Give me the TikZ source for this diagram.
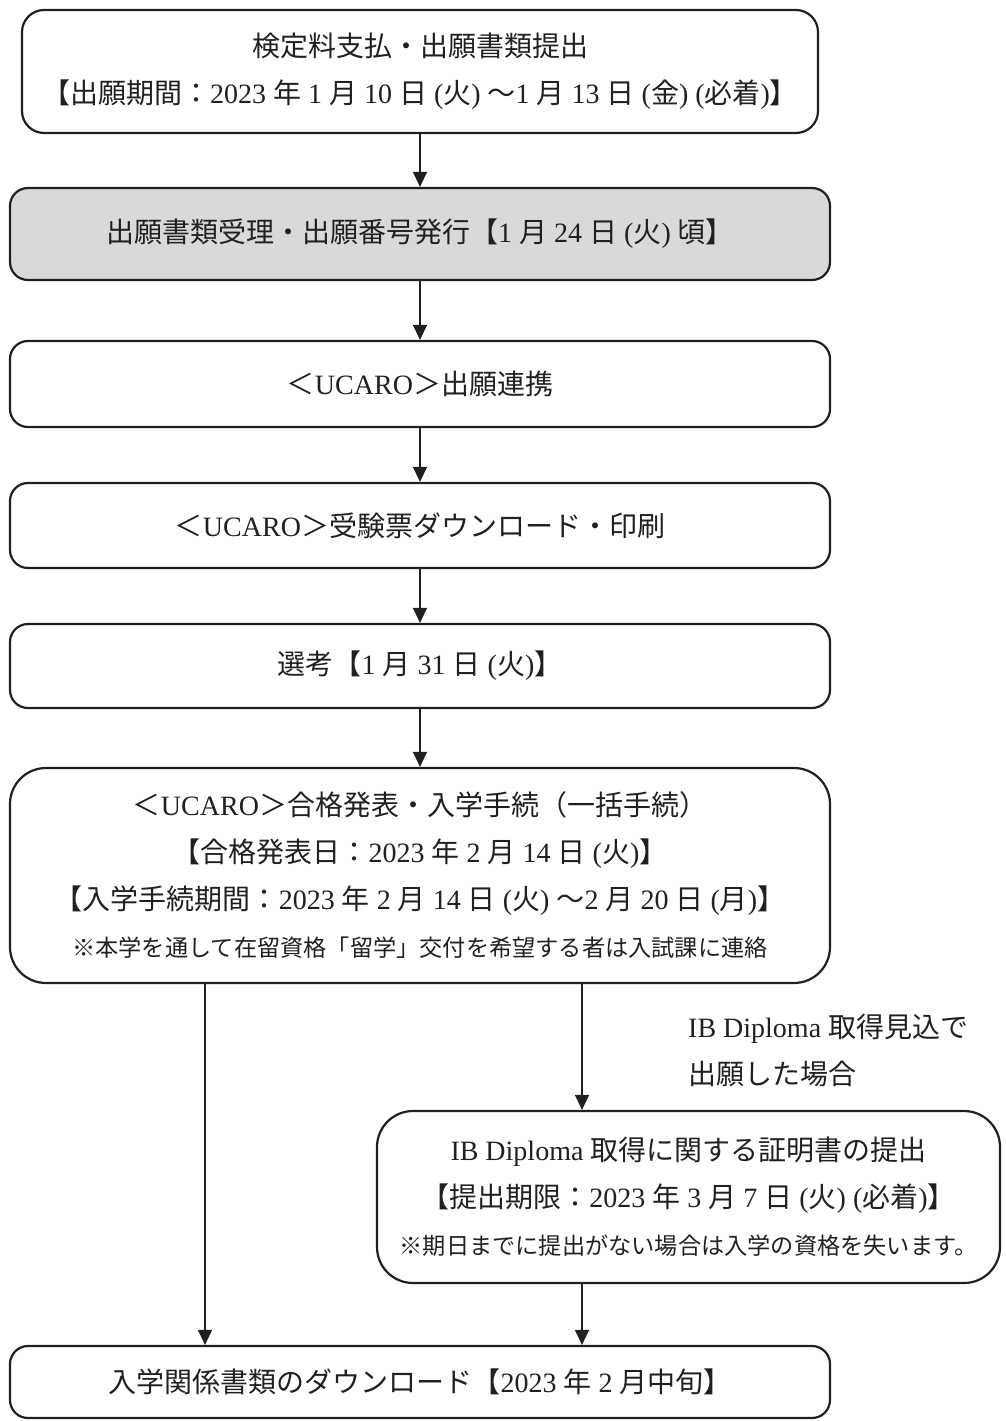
\documentclass[tikz,border=0pt]{standalone}
\usepackage{fontspec}
\usepackage{xcolor}
\usepackage{tikz}
\usetikzlibrary{arrows.meta}

\setmainfont{Liberation Serif}
\newfontfamily\jpfont{Noto Sans CJK JP}

% Japanese characters get the CJK font, everything else stays in the serif:
\newXeTeXintercharclass\jpclass
\count255="3000
\loop
  \XeTeXcharclass\count255=\jpclass
  \ifnum\count255<"9FFF \advance\count255 by 1 \repeat
\count255="FF00
\loop
  \XeTeXcharclass\count255=\jpclass
  \ifnum\count255<"FFEF \advance\count255 by 1 \repeat
\XeTeXcharclass"203B=\jpclass
\XeTeXinterchartoks 0 \jpclass = {\jpfont}
\XeTeXinterchartoks 4095 \jpclass = {\jpfont}
\XeTeXinterchartoks \jpclass 0 = {\rmfamily}
\XeTeXinterchartoks \jpclass 4095 = {\rmfamily}
\XeTeXinterchartokenstate=1

\definecolor{inkc}{RGB}{35,31,32}
\definecolor{boxgray}{RGB}{216,217,219}
\newcommand{\notesize}{\fontsize{23.2}{40}\selectfont}

\begin{document}
\begin{tikzpicture}[x=1pt,y=-1pt,
        every node/.style={font=\fontsize{28}{47}\selectfont, text=inkc},
        stepbox/.style={draw=inkc, line width=2.2pt, rounded corners=18pt,
            minimum width=820pt, inner sep=0pt, align=center},
        flow/.style={draw=inkc, line width=1.3pt, -{Triangle[width=14pt,length=15pt]}}]
    \useasboundingbox (0,0) rectangle (1006,1421);

    % Steps of the procedure:
    \node[stepbox, minimum width=796pt, minimum height=123pt, rounded corners=22pt] (apply) at (420,71.5)
        {検定料支払・出願書類提出\\【出願期間：2023 年 1 月 10 日 (火) ～1 月 13 日 (金) (必着)】};
    \node[stepbox, fill=boxgray, minimum height=92pt] (accept) at (420,234)
        {出願書類受理・出願番号発行【1 月 24 日 (火) 頃】};
    \node[stepbox, minimum height=86pt] (link) at (420,384) {＜UCARO＞出願連携};
    \node[stepbox, minimum height=85pt] (ticket) at (420,525.5) {＜UCARO＞受験票ダウンロード・印刷};
    \node[stepbox, minimum height=84pt] (exam) at (420,666) {選考【1 月 31 日 (火)】};
    \node[stepbox, minimum height=215pt, rounded corners=36pt] (result) at (420,875.5)
        {＜UCARO＞合格発表・入学手続（一括手続）\\【合格発表日：2023 年 2 月 14 日 (火)】\\
         【入学手続期間：2023 年 2 月 14 日 (火) ～2 月 20 日 (月)】\\
         {\notesize ※本学を通して在留資格「留学」交付を希望する者は入試課に連絡}};
    \node[stepbox, minimum width=623pt, minimum height=172pt, rounded corners=36pt] (ibcert) at (688.5,1197)
        {IB Diploma 取得に関する証明書の提出\\【提出期限：2023 年 3 月 7 日 (火) (必着)】\\
         {\notesize ※期日までに提出がない場合は入学の資格を失います。}};
    \node[stepbox, minimum height=72pt] (docs) at (420,1382) {入学関係書類のダウンロード【2023 年 2 月中旬】};

    % Condition for the branch on the right:
    \node[align=left, anchor=west, inner sep=0pt] (cond) at (688,1050) {IB Diploma 取得見込で\\出願した場合};

    % Arrows:
    \begin{scope}[flow]
        \draw (apply) -- (accept);
        \draw (accept) -- (link);
        \draw (link) -- (ticket);
        \draw (ticket) -- (exam);
        \draw (exam) -- (result);
        \draw ([xshift=-215pt]result.south) -- ([xshift=-215pt]docs.north);
        \draw ([xshift=162pt]result.south) -- ([xshift=162pt]result.south |- ibcert.north);
        \draw ([xshift=-106.5pt]ibcert.south) -- ([xshift=-106.5pt]ibcert.south |- docs.north);
    \end{scope}
\end{tikzpicture}
\end{document}
